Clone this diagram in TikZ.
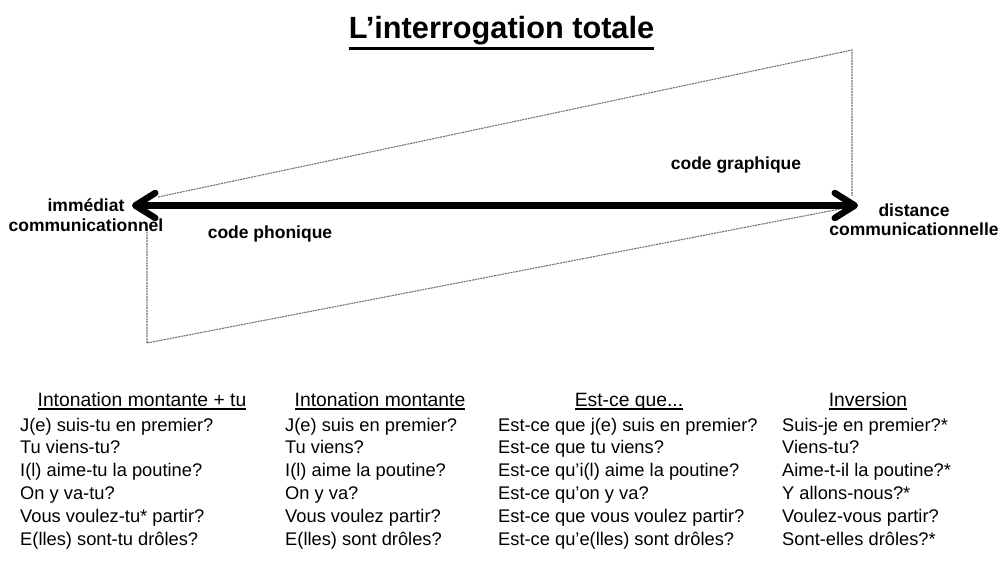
\documentclass[tikz,border=0pt]{standalone}
\usepackage{fontspec}
\setmainfont{Liberation Sans}
\usetikzlibrary{arrows.meta}
\newcommand\myul[3]{\setbox0\hbox{#3}\rlap{\rule[#1]{\wd0}{#2}}\box0}
\tikzset{
  rowtxt/.style={anchor=base west, inner sep=0pt, font=\fontsize{18.3}{22}\selectfont},
  hdr/.style={anchor=base, inner sep=0pt, font=\fontsize{19.3}{22}\selectfont},
  lbl/.style={inner sep=0pt, font=\bfseries\fontsize{17.5}{19.5}\selectfont, align=center},
  guide/.style={draw=black!55, line width=1.1pt, dash pattern=on 2pt off 0.8pt},
  bigarrow/.style={line width=6.5pt,
    {Straight Barb[length=20pt,width=25pt,round]}-{Straight Barb[length=20pt,width=25pt,round]}}
}
\begin{document}
\begin{tikzpicture}[x=1pt,y=-1pt]
\useasboundingbox (0,0) rectangle (1003,561);
% title
\node[anchor=base, inner sep=0pt, font=\bfseries\fontsize{30.7}{34}\selectfont] (title) at (501.5,38.3)
  {\myul{-11.7pt}{3.4pt}{L’interrogation totale}};
% guide shape
\coordinate (TL) at (158,197);
\coordinate (TR) at (852,50);
\coordinate (RB) at (852,196);
\coordinate (LT) at (147,226);
\coordinate (BL) at (147,343);
\coordinate (BR) at (840,209);
\draw[guide] (TL) -- (TR) -- (RB);
\draw[guide] (LT) -- (BL) -- (BR);
% arrow
\coordinate (aL) at (132,205.5);
\coordinate (aR) at (858,205.5);
\draw[bigarrow] (aL) -- (aR);
% labels
\node[lbl] (imm) at (86,215.3) {immédiat\\communicationnel};
\node[lbl] (dist) at (914,219.6) {distance\\communicationnelle};
\node[lbl, anchor=base] (graph) at (736,170) {code graphique};
\node[lbl, anchor=base] (phon) at (270,238.5) {code phonique};
% headers
\node[hdr] (h1) at (142,406) {\myul{-3.6pt}{1.5pt}{Intonation montante + tu}};
\node[hdr] (h2) at (380,406) {\myul{-3.6pt}{1.5pt}{Intonation montante}};
\node[hdr] (h3) at (629,406) {\myul{-3.6pt}{1.5pt}{Est-ce que...}};
\node[hdr] (h4) at (868,406) {\myul{-3.6pt}{1.5pt}{Inversion}};
% column 1
\node[rowtxt] (a1) at (20,431.0) {J(e) suis-tu en premier?};
\node[rowtxt] (a2) at (20,453.8) {Tu viens-tu?};
\node[rowtxt] (a3) at (20,476.6) {I(l) aime-tu la poutine?};
\node[rowtxt] (a4) at (20,499.4) {On y va-tu?};
\node[rowtxt] (a5) at (20,522.2) {Vous voulez-tu* partir?};
\node[rowtxt] (a6) at (20,545.0) {E(lles) sont-tu drôles?};
% column 2
\node[rowtxt] (b1) at (285,431.0) {J(e) suis en premier?};
\node[rowtxt] (b2) at (285,453.8) {Tu viens?};
\node[rowtxt] (b3) at (285,476.6) {I(l) aime la poutine?};
\node[rowtxt] (b4) at (285,499.4) {On y va?};
\node[rowtxt] (b5) at (285,522.2) {Vous voulez partir?};
\node[rowtxt] (b6) at (285,545.0) {E(lles) sont drôles?};
% column 3
\node[rowtxt] (c1) at (498,431.0) {Est-ce que j(e) suis en premier?};
\node[rowtxt] (c2) at (498,453.8) {Est-ce que tu viens?};
\node[rowtxt] (c3) at (498,476.6) {Est-ce qu’i(l) aime la poutine?};
\node[rowtxt] (c4) at (498,499.4) {Est-ce qu’on y va?};
\node[rowtxt] (c5) at (498,522.2) {Est-ce que vous voulez partir?};
\node[rowtxt] (c6) at (498,545.0) {Est-ce qu’e(lles) sont drôles?};
% column 4
\node[rowtxt] (d1) at (782,431.0) {Suis-je en premier?*};
\node[rowtxt] (d2) at (782,453.8) {Viens-tu?};
\node[rowtxt] (d3) at (782,476.6) {Aime-t-il la poutine?*};
\node[rowtxt] (d4) at (782,499.4) {Y allons-nous?*};
\node[rowtxt] (d5) at (782,522.2) {Voulez-vous partir?};
\node[rowtxt] (d6) at (782,545.0) {Sont-elles drôles?*};
\end{tikzpicture}
\end{document}
